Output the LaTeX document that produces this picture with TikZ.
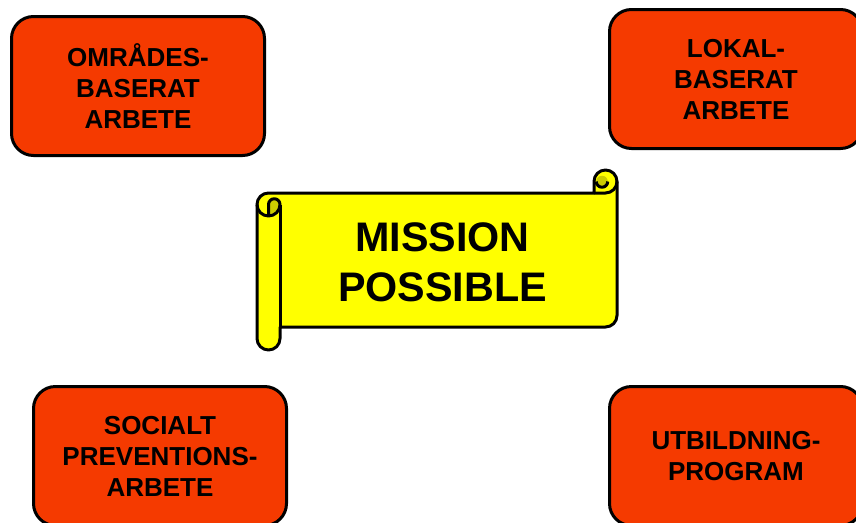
\documentclass[tikz,border=0pt]{standalone}
\usepackage{fontspec}
\setmainfont{Liberation Sans}
\definecolor{boxred}{RGB}{245,58,0}
\definecolor{scrollyellow}{RGB}{255,255,0}
\definecolor{scrolldark}{RGB}{204,204,0}
\begin{document}
\begin{tikzpicture}[x=1pt,y=-1pt,line join=round,
  box/.style={draw=black,line width=3pt,fill=boxred,rounded corners=22pt,
    minimum width=253pt,minimum height=139pt,inner sep=0pt,align=center,
    font=\fontsize{26pt}{31pt}\selectfont\bfseries},
  outline/.style={draw=black,line width=3pt},
  title/.style={align=center,inner sep=0pt,font=\fontsize{41.3pt}{50pt}\selectfont\bfseries}]
\useasboundingbox (0,0) rectangle (856,522);
% four boxes
\node[box] (omr) at (138,86) {OMRÅDES-\\BASERAT\\ARBETE};
\node[box] (lok) at (736,79) {LOKAL-\\BASERAT\\ARBETE};
\node[box] (soc) at (160,456) {SOCIALT\\PREVENTIONS-\\ARBETE};
\node[box] (utb) at (736,456) {UTBILDNING-\\PROGRAM};
% scroll body and left roll outline
\path[fill=scrollyellow,outline] (257,204.5) arc[start angle=180,end angle=270,radius=11.5]
  -- (594,193) -- (594,181.5) arc[start angle=180,end angle=360,radius=11.5]
  -- (617,315.5) arc[start angle=0,end angle=90,radius=11.5]
  -- (280,327) -- (280,338.5) arc[start angle=0,end angle=180,radius=11.5] -- cycle;
% left curl
\fill[scrolldark] (268.5,216) -- (268.5,204.5) arc[start angle=180,end angle=360,radius=5.75]
  arc[start angle=0,end angle=90,radius=11.5] -- cycle;
\draw[outline] (268.5,216) -- (268.5,204.5) arc[start angle=180,end angle=360,radius=5.75]
  arc[start angle=0,end angle=180,radius=11.5];
\draw[outline] (280,204.5) -- (280,327);
% right curl
\fill[scrolldark] (602,181.5) circle[radius=5.75];
\draw[outline] (607.75,181.5) arc[start angle=0,end angle=180,radius=5.75];
\draw[outline] (594,193) -- (605.5,193) arc[start angle=90,end angle=0,radius=11.5];
% title
\node[title] (mission) at (442.5,262) {MISSION\\POSSIBLE};
\end{tikzpicture}
\end{document}
